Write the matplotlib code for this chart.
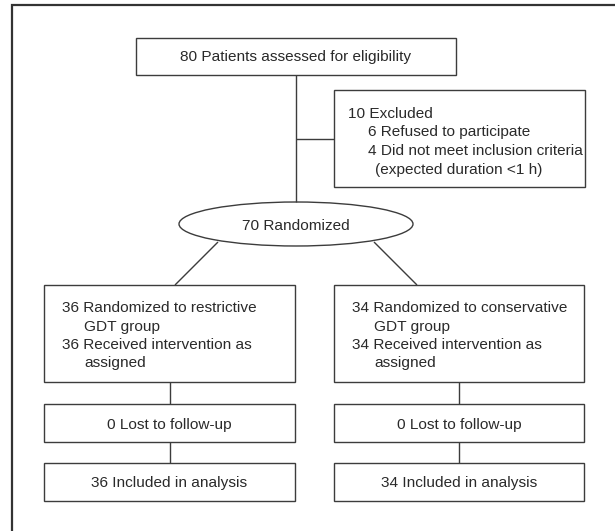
import matplotlib
matplotlib.use("Agg")
import matplotlib.pyplot as plt
from matplotlib.patches import Rectangle, Ellipse

# ---- data (text content of the flow chart) ----
assessed_n = 80
excluded_n = 10
excluded_reasons = ["6 Refused to participate", "4 Did not meet inclusion criteria"]
excluded_note = "(expected duration <1 h)"
randomized_n = 70
arm_names = ["restrictive", "conservative"]
arm_randomized = [36, 34]
arm_received = [36, 34]
arm_lost = [0, 0]
arm_analyzed = [36, 34]

FONT = ["Liberation Sans Narrow", "Liberation Sans", "DejaVu Sans"]
FS = 11.1
TC = "#2a2a2a"
LC = "#3c3c3c"
LW = 1.0

fig = plt.figure(figsize=(6.15, 5.31), dpi=100)
ax = fig.add_axes([0, 0, 1, 1])
ax.set_xlim(0, 615)
ax.set_ylim(531, 0)
ax.axis("off")


def box(x0, y0, x1, y1):
    ax.add_patch(Rectangle((x0, y0), x1 - x0, y1 - y0, fill=False,
                           edgecolor=LC, linewidth=LW))


def line(xs, ys):
    ax.plot(xs, ys, color=LC, linewidth=LW, solid_capstyle="butt")


def txt(x, y, s, ha="left"):
    ax.text(x, y, s, ha=ha, va="baseline", fontsize=FS, family=FONT, color=TC)


# outer frame (open on right and bottom)
ax.plot([12, 12, 615], [531, 5, 5], color="#333333", linewidth=1.6,
        solid_joinstyle="miter")

# top box
box(136, 38, 456, 75)
txt(296, 61.5, f"{assessed_n} Patients assessed for eligibility", ha="center")

# vertical trunk and branch to excluded
line([296, 296], [75, 202])
line([296, 334], [139, 139])

# excluded box
box(334, 90, 585, 187)
ex_lines = [(348, f"{excluded_n} Excluded"),
            (368, excluded_reasons[0]),
            (368, excluded_reasons[1]),
            (375, excluded_note)]
for i, (x, s) in enumerate(ex_lines):
    txt(x, 117.5 + i * 18.7, s)

# randomized ellipse
ax.add_patch(Ellipse((296, 224), 234, 44, fill=False, edgecolor=LC, linewidth=LW))
txt(296, 229.5, f"{randomized_n} Randomized", ha="center")

# diagonals
line([218, 175], [242, 285])
line([374, 417], [242, 285])

# arm columns
lefts = [44, 334]
rights = [295, 584]
for k in range(2):
    x0, x1 = lefts[k], rights[k]
    xc = (x0 + x1) / 2
    box(x0, 285, x1, 382)
    lines = [(x0 + 18, f"{arm_randomized[k]} Randomized to {arm_names[k]}"),
             (x0 + 40, "GDT group"),
             (x0 + 18, f"{arm_received[k]} Received intervention as"),
             (x0 + 40, "assigned")]
    for i, (x, s) in enumerate(lines):
        txt(x, 312.5 + i * 18.3, s)
    line([xc, xc], [382, 404])
    box(x0, 404, x1, 442)
    txt(xc, 428.5, f"{arm_lost[k]} Lost to follow-up", ha="center")
    line([xc, xc], [442, 463])
    box(x0, 463, x1, 501)
    txt(xc, 487.5, f"{arm_analyzed[k]} Included in analysis", ha="center")

fig.savefig("out.png", dpi=100)
